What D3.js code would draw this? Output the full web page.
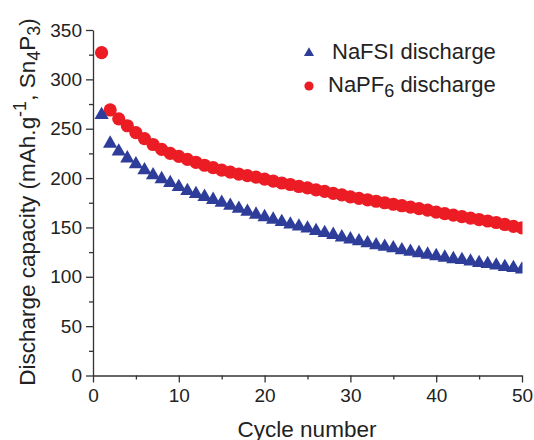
<!DOCTYPE html>
<html>
<head>
<meta charset="utf-8">
<script src="https://cdn.jsdelivr.net/npm/d3@7"></script>
<style>
  body { margin: 0; background: #fff; }
  svg { font-family: "Liberation Sans", Arial, sans-serif; }
  .axis path, .axis line { stroke: #333; stroke-width: 1.3; }
  .axis text { font-size: 19px; fill: #222; }
  .title { font-size: 22.5px; fill: #222; }
  .legend { font-size: 22px; fill: #222; }
</style>
</head>
<body>
<svg></svg>
<script>
const cycles = [
  1, 2, 3, 4, 5, 6, 7, 8, 9, 10,
  11, 12, 13, 14, 15, 16, 17, 18, 19, 20,
  21, 22, 23, 24, 25, 26, 27, 28, 29, 30,
  31, 32, 33, 34, 35, 36, 37, 38, 39, 40,
  41, 42, 43, 44, 45, 46, 47, 48, 49, 50
]

// NaFSI discharge (triangles)
const nafsi = [
  264, 235, 227, 220, 214, 208, 203, 199, 195, 191,
  187, 184, 181, 178, 175, 172, 169, 166, 163, 160.5,
  158, 155.5, 153, 151, 149, 146.5, 144.5, 142.5, 140, 138,
  136, 134, 132, 130.5, 129, 127, 125.5, 124, 122.5, 121,
  119.5, 118, 117, 115.5, 114, 113, 111.5, 110, 109, 107.5
]

// NaPF6 discharge (circles)
const napf6 = [
  327, 269, 260, 253, 246, 240, 234, 229, 225, 222,
  219, 216, 213, 210.5, 208, 206, 204, 202.5, 201, 199,
  197, 195, 193.5, 191.5, 190, 188, 186.5, 184.5, 183, 181,
  179.5, 178, 176.5, 175, 173.5, 172, 170.5, 169, 167.5, 165.5,
  164, 162.5, 161, 159.5, 158, 156.5, 155, 153, 151, 149.5
]

const xTicks = [0, 10, 20, 30, 40, 50]
const xMinor = [5, 15, 25, 35, 45]
const yTicks = [0, 50, 100, 150, 200, 250, 300, 350]
const yMinor = [25, 75, 125, 175, 225, 275, 325]

const red = "#ec1c24"
const blue = "#2e3d99"

const svg = d3.select("svg")
  .attr("width", 534)
  .attr("height", 440)

const x = d3.scaleLinear().domain([0, 50]).range([93, 522])
const y = d3.scaleLinear().domain([0, 350]).range([375.5, 30])

svg.append("defs").append("clipPath")
  .attr("id", "plot")
  .append("rect")
  .attr("x", 93).attr("y", 0)
  .attr("width", 429.5).attr("height", 380)

// minor ticks
svg.append("g")
  .attr("class", "axis")
  .attr("transform", "translate(0, 375.5)")
  .call(d3.axisBottom(x).tickValues(xMinor).tickSize(4).tickFormat(""))
  .select(".domain").remove()

svg.append("g")
  .attr("class", "axis")
  .attr("transform", "translate(93, 0)")
  .call(d3.axisLeft(y).tickValues(yMinor).tickSize(4).tickFormat(""))
  .select(".domain").remove()

// major axes
svg.append("g")
  .attr("class", "axis")
  .attr("transform", "translate(0, 375.5)")
  .call(d3.axisBottom(x).tickValues(xTicks).tickSize(7).tickSizeOuter(0).tickPadding(6))

svg.append("g")
  .attr("class", "axis")
  .attr("transform", "translate(93, 0)")
  .call(d3.axisLeft(y).tickValues(yTicks).tickSize(7).tickSizeOuter(0).tickPadding(4))

svg.selectAll(".axis text").attr("font-family", null)

// series
const marks = svg.append("g").attr("clip-path", "url(#plot)")

marks.selectAll("circle.pf6")
  .data(cycles)
  .enter()
  .append("circle")
  .attr("class", "pf6")
  .attr("cx", (d, i) => x(d))
  .attr("cy", (d, i) => y(napf6[i]))
  .attr("r", 6.6)
  .style("fill", red)

const tri = d3.symbol().type(d3.symbolTriangle).size(88)

marks.selectAll("path.fsi")
  .data(cycles)
  .enter()
  .append("path")
  .attr("class", "fsi")
  .attr("d", tri)
  .attr("transform", (d, i) => `translate(${x(d)}, ${y(nafsi[i])})`)
  .style("fill", blue)

// legend
svg.append("path")
  .attr("d", d3.symbol().type(d3.symbolTriangle).size(44)())
  .attr("transform", "translate(309, 53)")
  .style("fill", blue)

svg.append("text")
  .attr("class", "legend")
  .attr("x", 332)
  .attr("y", 59)
  .text("NaFSI discharge")

svg.append("circle")
  .attr("cx", 309)
  .attr("cy", 86)
  .attr("r", 4.6)
  .style("fill", red)

const lt = svg.append("text")
  .attr("class", "legend")
  .attr("x", 328)
  .attr("y", 92)
lt.append("tspan").text("NaPF")
lt.append("tspan").attr("dy", 5).attr("font-size", "18px").text("6")
lt.append("tspan").attr("dy", -5).text(" discharge")

// axis titles
svg.append("text")
  .attr("class", "title")
  .attr("x", 307)
  .attr("y", 436.5)
  .attr("text-anchor", "middle")
  .text("Cycle number")

const yt = svg.append("text")
  .attr("class", "title")
  .attr("font-size", "23.5px")
  .attr("text-anchor", "middle")
  .attr("transform", "translate(35, 202) rotate(-90)")
yt.append("tspan").text("Discharge capacity (mAh.g")
yt.append("tspan").attr("dy", -9).attr("font-size", "18px").text("-1")
yt.append("tspan").attr("dy", 9).text(", Sn")
yt.append("tspan").attr("dy", 5).attr("font-size", "18px").text("4")
yt.append("tspan").attr("dy", -5).text("P")
yt.append("tspan").attr("dy", 5).attr("font-size", "18px").text("3")
yt.append("tspan").attr("dy", -5).text(")")
</script>
</body>
</html>
